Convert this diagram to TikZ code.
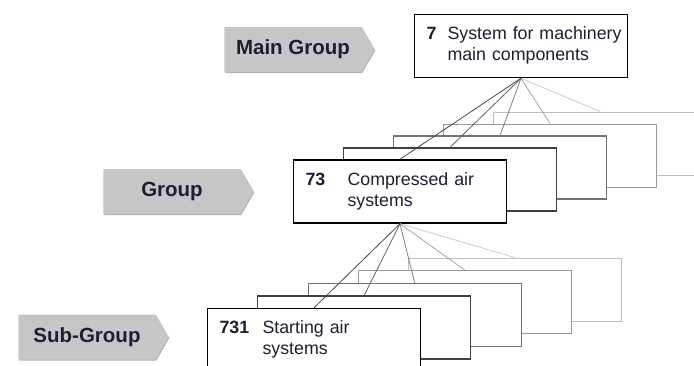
\documentclass[tikz,border=0pt]{standalone}
\usepackage{fontspec}
\setmainfont{Liberation Sans}
\usetikzlibrary{shapes.symbols, shadows, positioning}

\definecolor{labelgray}{RGB}{198,198,198}
\definecolor{inknavy}{RGB}{30,30,50}

\newcommand{\CardText}[4]{%
	\begin{tabular}{@{}p{#1}@{}l@{}}\textbf{#2} & #3\\ & #4\end{tabular}%
}

\begin{document}
\begin{tikzpicture}[x=1pt, y=-1pt,
	levelTag/.style={signal, signal to=east, signal pointer angle=120, fill=labelgray,
		minimum width=150pt, minimum height=45pt, inner sep=0pt, text=inknavy,
		font=\fontsize{20.5}{24}\selectfont\bfseries,
		drop shadow={shadow xshift=0.8pt, shadow yshift=-1pt, fill=black!60, opacity=0.5}},
	card/.style={draw=#1, fill=white, minimum width=213pt, minimum height=63pt,
		text width=189pt, inner xsep=12pt, inner ysep=0pt, align=left, text=inknavy,
		font=\fontsize{17.8}{21}\selectfont},
	fan/.style={draw=#1, line width=0.8pt}
]
\pgfmathsetmacro{\stepX}{50}
\pgfmathsetmacro{\stepY}{12}

\useasboundingbox (0,0) rectangle (694,365);

% Level tags
\node[levelTag] (tagMain) at (293,49.5) {Main Group};
\node[levelTag] (tagGroup) at (172,191.5) {Group};
\node[levelTag] (tagSub) at (87,337) {Sub-Group};

% Main group card
\node[card=black, line width=1.5pt] (main) at (521,46) {\CardText{21pt}{7}{System for machinery}{main components}};

% Group cards, back to front
\node[card=black!25, line width=1pt] (grp5) at (400+4*\stepX,191.5-4*\stepY) {};
\node[card=black!40, line width=1pt] (grp4) at (400+3*\stepX,191.5-3*\stepY) {};
\node[card=black!55, line width=1.1pt] (grp3) at (400+2*\stepX,191.5-2*\stepY) {};
\node[card=black!75, line width=1.3pt] (grp2) at (400+\stepX,191.5-\stepY) {};
\node[card=black, line width=1.5pt] (grp1) at (400,191.5) {\CardText{42pt}{73}{Compressed air}{systems}};

% Sub-group cards, back to front
\node[card=black!25, line width=1pt] (sub5) at (314+4*50.3,340-4*12.6) {};
\node[card=black!40, line width=1pt] (sub4) at (314+3*50.3,340-3*12.6) {};
\node[card=black!55, line width=1.1pt] (sub3) at (314+2*50.3,340-2*12.6) {};
\node[card=black!75, line width=1.3pt] (sub2) at (314+50.3,340-12.6) {};
\node[card=black, line width=1.5pt] (sub1) at (314,340) {\CardText{43pt}{731}{Starting air}{systems}};

% Draw fans
\draw[fan=black!20] (main.south) -- (grp5.north);
\draw[fan=black!35] (main.south) -- (grp4.north);
\draw[fan=black!50] (main.south) -- (grp3.north);
\draw[fan=black!62] (main.south) -- (grp2.north);
\draw[fan=black!72] (main.south) -- (grp1.north);

\draw[fan=black!20] (grp1.south) -- (sub5.north);
\draw[fan=black!35] (grp1.south) -- (sub4.north);
\draw[fan=black!50] (grp1.south) -- (sub3.north);
\draw[fan=black!62] (grp1.south) -- (sub2.north);
\draw[fan=black!72] (grp1.south) -- (sub1.north);
\end{tikzpicture}
\end{document}
